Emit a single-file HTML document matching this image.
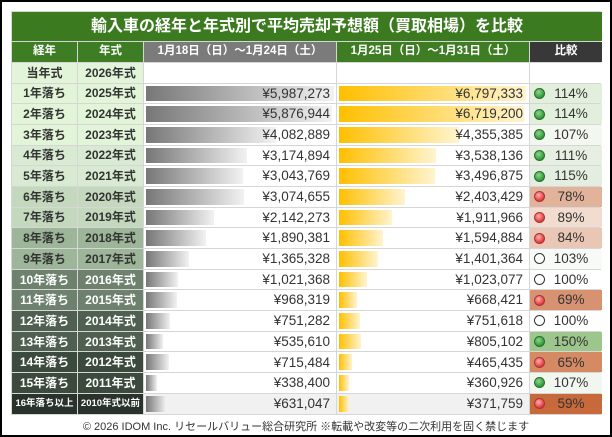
<!DOCTYPE html>
<html><head><meta charset="utf-8"><style>
*{margin:0;padding:0;box-sizing:border-box}
body{width:612px;height:437px;background:#fff;border:2px solid #000;position:relative;overflow:hidden;font-family:"Liberation Sans","Noto Sans CJK JP",sans-serif}
.g{position:absolute;left:9px;top:9px;width:590px;display:grid;grid-template-columns:65px 65px 192px 192px 72px;grid-template-rows:29px 19.5px 20px repeat(16,19.7px);gap:1px;background:#d6d6d6;border:1px solid #d6d6d6}
.g>div{display:flex;align-items:center;justify-content:center;font-size:12px;font-weight:bold;color:#333;position:relative;white-space:nowrap;overflow:hidden;line-height:1}
.t{grid-column:1/6;background:#3b7a1f;color:#fff!important;font-size:16px!important}
.h{background:#3e7d24;color:#fff!important;font-size:11.5px!important}
.v{background:#fff;justify-content:flex-end!important;padding-right:6px;font-weight:normal!important;font-size:13.5px!important;color:#333!important}
.v span{position:relative;z-index:2}
.b1,.b2{position:absolute;left:2px;top:2px;bottom:2px}
.b1{background:linear-gradient(90deg,#777,#f2f2f2)}
.b2{background:linear-gradient(90deg,#ffbf00,#fff4cf)}
.c{justify-content:flex-start!important;font-weight:normal!important;font-size:13.5px!important;color:#333!important;padding-left:4px}
.c i{display:inline-block;width:11px;height:11px;border-radius:50%;margin-right:6px}
.gr{background:radial-gradient(circle at 40% 35%,#8fd48f,#2e9a3a 70%);border:1px solid #2a6e2a}
.rd{background:radial-gradient(circle at 40% 35%,#ffb0b0,#e03a3a 70%);border:1px solid #a33}
.wh{border:1.5px solid #333;background:#fff}
.c em{font-style:normal;display:inline-block;width:40px;text-align:center}
.f{position:absolute;left:0;width:608px;top:416px;text-align:center;font-size:11px;color:#333}
</style></head><body>
<div class="g">
<div class="t">輸入車の経年と年式別で平均売却予想額（買取相場）を比較</div>
<div class="h">経年</div><div class="h">年式</div><div class="h" style="background:#7b7b7b">1月18日（日）～1月24日（土）</div><div class="h">1月25日（日）～1月31日（土）</div><div class="h" style="background:#383838">比較</div>
<div style="background:#e3f5d8">当年式</div><div style="background:#e3f5d8">2026年式</div><div style="background:#fff"></div><div style="background:#fff"></div><div style="background:#fff"></div>

<div style="background:#e3f5d8">1年落ち</div><div style="background:#e3f5d8">2025年式</div><div class="v"><b class="b1" style="width:188px"></b><span>¥5,987,273</span></div><div class="v"><b class="b2" style="width:187px"></b><span>¥6,797,333</span></div><div class="c" style="background:#e3efdd"><i class="gr"></i><em>114%</em></div>
<div style="background:#e3f5d8">2年落ち</div><div style="background:#e3f5d8">2024年式</div><div class="v"><b class="b1" style="width:186px"></b><span>¥5,876,944</span></div><div class="v"><b class="b2" style="width:185px"></b><span>¥6,719,200</span></div><div class="c" style="background:#e3efdd"><i class="gr"></i><em>114%</em></div>
<div style="background:#e3f5d8">3年落ち</div><div style="background:#e3f5d8">2023年式</div><div class="v"><b class="b1" style="width:130px"></b><span>¥4,082,889</span></div><div class="v"><b class="b2" style="width:120px"></b><span>¥4,355,385</span></div><div class="c" style="background:#f2f7ef"><i class="gr"></i><em>107%</em></div>
<div style="background:#d9ead2">4年落ち</div><div style="background:#d9ead2">2022年式</div><div class="v"><b class="b1" style="width:101px"></b><span>¥3,174,894</span></div><div class="v"><b class="b2" style="width:97px"></b><span>¥3,538,136</span></div><div class="c" style="background:#e6efe1"><i class="gr"></i><em>111%</em></div>
<div style="background:#d9ead2">5年落ち</div><div style="background:#d9ead2">2021年式</div><div class="v"><b class="b1" style="width:97px"></b><span>¥3,043,769</span></div><div class="v"><b class="b2" style="width:96px"></b><span>¥3,496,875</span></div><div class="c" style="background:#e3ede0"><i class="gr"></i><em>115%</em></div>
<div style="background:#c4d8bd">6年落ち</div><div style="background:#c4d8bd">2020年式</div><div class="v"><b class="b1" style="width:98px"></b><span>¥3,074,655</span></div><div class="v"><b class="b2" style="width:66px"></b><span>¥2,403,429</span></div><div class="c" style="background:#e2b39b"><i class="rd"></i><em>78%</em></div>
<div style="background:#c4d8bd">7年落ち</div><div style="background:#c4d8bd">2019年式</div><div class="v"><b class="b1" style="width:68px"></b><span>¥2,142,273</span></div><div class="v"><b class="b2" style="width:53px"></b><span>¥1,911,966</span></div><div class="c" style="background:#f2dccf"><i class="rd"></i><em>89%</em></div>
<div style="background:#9db598">8年落ち</div><div style="background:#9db598">2018年式</div><div class="v"><b class="b1" style="width:60px"></b><span>¥1,890,381</span></div><div class="v"><b class="b2" style="width:44px"></b><span>¥1,594,884</span></div><div class="c" style="background:#eac7b4"><i class="rd"></i><em>84%</em></div>
<div style="background:#9db598">9年落ち</div><div style="background:#9db598">2017年式</div><div class="v"><b class="b1" style="width:43px"></b><span>¥1,365,328</span></div><div class="v"><b class="b2" style="width:39px"></b><span>¥1,401,364</span></div><div class="c" style="background:#f8faf7"><i class="wh"></i><em>103%</em></div>
<div style="background:#6e816f;color:#fff">10年落ち</div><div style="background:#6e816f;color:#fff">2016年式</div><div class="v"><b class="b1" style="width:32px"></b><span>¥1,021,368</span></div><div class="v"><b class="b2" style="width:28px"></b><span>¥1,023,077</span></div><div class="c" style="background:#fff"><i class="wh"></i><em>100%</em></div>
<div style="background:#6e816f;color:#fff">11年落ち</div><div style="background:#6e816f;color:#fff">2015年式</div><div class="v"><b class="b1" style="width:31px"></b><span>¥968,319</span></div><div class="v"><b class="b2" style="width:18px"></b><span>¥668,421</span></div><div class="c" style="background:#d69271"><i class="rd"></i><em>69%</em></div>
<div style="background:#506050;color:#fff">12年落ち</div><div style="background:#506050;color:#fff">2014年式</div><div class="v"><b class="b1" style="width:24px"></b><span>¥751,282</span></div><div class="v"><b class="b2" style="width:21px"></b><span>¥751,618</span></div><div class="c" style="background:#fff"><i class="wh"></i><em>100%</em></div>
<div style="background:#506050;color:#fff">13年落ち</div><div style="background:#506050;color:#fff">2013年式</div><div class="v"><b class="b1" style="width:17px"></b><span>¥535,610</span></div><div class="v"><b class="b2" style="width:22px"></b><span>¥805,102</span></div><div class="c" style="background:#9cc68c"><i class="gr"></i><em>150%</em></div>
<div style="background:#3c4a3d;color:#fff">14年落ち</div><div style="background:#3c4a3d;color:#fff">2012年式</div><div class="v"><b class="b1" style="width:23px"></b><span>¥715,484</span></div><div class="v"><b class="b2" style="width:13px"></b><span>¥465,435</span></div><div class="c" style="background:#d58a64"><i class="rd"></i><em>65%</em></div>
<div style="background:#3c4a3d;color:#fff">15年落ち</div><div style="background:#3c4a3d;color:#fff">2011年式</div><div class="v"><b class="b1" style="width:11px"></b><span>¥338,400</span></div><div class="v"><b class="b2" style="width:10px"></b><span>¥360,926</span></div><div class="c" style="background:#f1f6ef"><i class="gr"></i><em>107%</em></div>
<div style="background:#2a332b;color:#fff;font-size:9.5px">16年落ち以上</div><div style="background:#2a332b;color:#fff;font-size:9.5px">2010年式以前</div><div class="v" style="background:#f1f1f1"><b class="b1" style="width:20px"></b><span>¥631,047</span></div><div class="v" style="background:#f1f1f1"><b class="b2" style="width:10px"></b><span>¥371,759</span></div><div class="c" style="background:#c8693b"><i class="rd"></i><em>59%</em></div>
</div>
<div class="f">© 2026 IDOM Inc. リセールバリュー総合研究所 ※転載や改変等の二次利用を固く禁じます</div>
</body></html>
